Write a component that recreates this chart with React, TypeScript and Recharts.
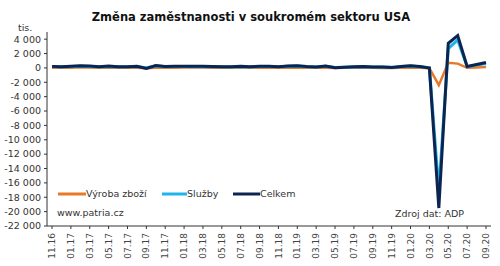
import React from "react";
import { LineChart, Line, XAxis, YAxis, Customized } from "recharts";

const months = [
  "11.16","12.16","01.17","02.17","03.17","04.17","05.17","06.17","07.17","08.17","09.17","10.17",
  "11.17","12.17","01.18","02.18","03.18","04.18","05.18","06.18","07.18","08.18","09.18","10.18",
  "11.18","12.18","01.19","02.19","03.19","04.19","05.19","06.19","07.19","08.19","09.19","10.19",
  "11.19","12.19","01.20","02.20","03.20","04.20","05.20","06.20","07.20","08.20","09.20",
];

const total = [
  216, 153, 246, 298, 263, 177, 253, 158, 178, 237, -60, 330,
  190, 250, 234, 235, 241, 204, 178, 177, 219, 163, 230, 227,
  179, 271, 300, 183, 129, 275, 27, 102, 156, 195, 135, 125,
  67, 202, 291, 183, -30, -19500, 3420, 4500, 200, 470, 750,
];

const goods = [
  30, 10, 40, 80, 50, 20, 40, 20, 30, 40, -50, 40,
  30, 40, 50, 60, 50, 40, 30, 40, 50, 20, 40, 30,
  30, 50, 40, 20, 10, 40, -20, 10, 20, 30, 10, 0,
  -10, 20, 40, 20, -40, -2400, 720, 600, 20, 60, 120,
];

const services = [
  186, 143, 206, 218, 213, 157, 213, 138, 148, 197, -10, 290,
  160, 210, 184, 175, 191, 164, 148, 137, 169, 143, 190, 197,
  149, 221, 260, 163, 119, 235, 47, 92, 136, 165, 125, 125,
  77, 182, 251, 163, 10, -17100, 2700, 3900, 180, 410, 630,
];

const yTicks = [4000, 2000, 0, -2000, -4000, -6000, -8000, -10000, -12000, -14000, -16000, -18000, -20000, -22000];

const seriesNames = ["Výroba zboží", "Služby", "Celkem"];
const colors = ["#E8782A", "#1FB5EC", "#0C2550"];

const data = months.map((m, i) => ({
  month: m,
  goods: goods[i],
  services: services[i],
  total: total[i],
}));

const FONT = "'DejaVu Sans', Verdana, sans-serif";

const fmt = (v: number) => {
  const s = Math.abs(v).toString().replace(/\B(?=(\d{3})+(?!\d))/g, " ");
  return (v < 0 ? "-" : "") + s;
};

const XTick = (props: any) => {
  const { x, y, payload } = props;
  return (
    <text
      x={x}
      y={y + 2}
      transform={`rotate(-90, ${x}, ${y + 2})`}
      textAnchor="end"
      dy="0.35em"
      fontSize={9}
      fill="#444"
      fontFamily={FONT}
    >
      {payload.value}
    </text>
  );
};

const YTick = (props: any) => {
  const { x, y, payload } = props;
  return (
    <text x={x - 1} y={y} dy="0.35em" textAnchor="end" fontSize={9.5} fill="#333" fontFamily={FONT}>
      {fmt(payload.value)}
    </text>
  );
};

const legendItems = [
  { x: 58, w: 28 },
  { x: 162, w: 25 },
  { x: 233, w: 27 },
];

export default function App() {
  return (
    <div style={{ position: "absolute", left: 0, top: 0, width: 500, height: 266, background: "#fff" }}>
      <LineChart
        width={500}
        height={266}
        data={data}
        margin={{ top: 32, right: 9, left: 0, bottom: 0 }}
      >
        <XAxis
          dataKey="month"
          interval={1}
          padding={{ left: 5, right: 5 }}
          tick={<XTick />}
          tickSize={3}
          height={40}
          axisLine={{ stroke: "#333" }}
          tickLine={{ stroke: "#333" }}
        />
        <YAxis
          width={47}
          domain={[-22000, 5000]}
          ticks={yTicks}
          interval={0}
          tick={<YTick />}
          tickSize={3}
          axisLine={{ stroke: "#333" }}
          tickLine={{ stroke: "#333" }}
        />
        <Line dataKey="goods" name={seriesNames[0]} stroke={colors[0]} strokeWidth={2.5} dot={false} isAnimationActive={false} />
        <Line dataKey="services" name={seriesNames[1]} stroke={colors[1]} strokeWidth={3} dot={false} isAnimationActive={false} />
        <Line dataKey="total" name={seriesNames[2]} stroke={colors[2]} strokeWidth={3} dot={false} isAnimationActive={false} />
        <Customized
          component={() => (
            <g fontFamily={FONT}>
              <text x={251} y={17} dy="0.35em" textAnchor="middle" fontSize={11.5} fontWeight="bold" fill="#111">
                Změna zaměstnanosti v soukromém sektoru USA
              </text>
              <text x={18} y={28} dy="0.35em" fontSize={9.5} fill="#333">tis.</text>
              {seriesNames.map((n, i) => (
                <g key={n}>
                  <line
                    x1={legendItems[i].x}
                    x2={legendItems[i].x + legendItems[i].w}
                    y1={194}
                    y2={194}
                    stroke={colors[i]}
                    strokeWidth={3}
                  />
                  <text x={legendItems[i].x + legendItems[i].w} y={194} dy="0.35em" fontSize={9.5} fill="#333">
                    {n}
                  </text>
                </g>
              ))}
              <text x={57} y={213} dy="0.35em" fontSize={9.5} fill="#333">www.patria.cz</text>
              <text x={395} y={214} dy="0.35em" fontSize={9.5} fill="#333">Zdroj dat: ADP</text>
            </g>
          )}
        />
      </LineChart>
    </div>
  );
}
